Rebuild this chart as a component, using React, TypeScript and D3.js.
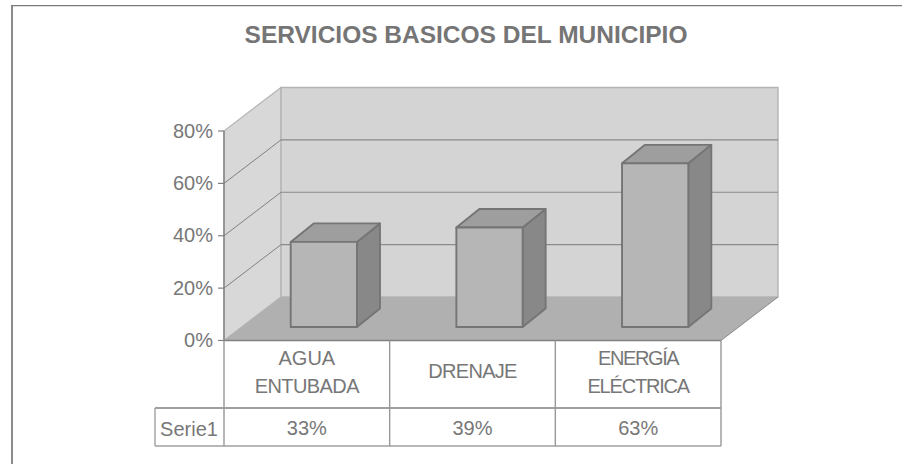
import React from "react";
import * as d3 from "d3";

const categories = ["AGUA ENTUBADA", "DRENAJE", "ENERGÍA ELÉCTRICA"];
const categoryLines = [["AGUA", "ENTUBADA"], ["DRENAJE"], ["ENERGÍA", "ELÉCTRICA"]];
const seriesName = "Serie1";
const seriesValues = [32.5, 38, 62.5];
const tableLabels = ["33%", "39%", "63%"];
const yTicks = [0, 20, 40, 60, 80];
const titleText = "SERVICIOS BASICOS DEL MUNICIPIO";

const W = 902, H = 464;
const FONT = "'Liberation Sans', Arial, sans-serif";
const TXT = "#777777";
const LINE = "#808080";
const depth = { dx: 57, dy: -43.5 };
const barDepth = { dx: 23, dy: -18.5 };
const barOffset = { dx: 17, dy: -13.5 };

const x = d3.scaleBand<string>().domain(categories).range([224, 721]);
const y = d3.scaleLinear().domain([0, 80]).range([340.5, 131]);

const poly = (pts: [number, number][]) => d3.line()(pts) + "Z";

const spacing: Record<string, number> = {
  AGUA: 0, ENTUBADA: -0.6, DRENAJE: -0.7, "ENERGÍA": -1.4, "ELÉCTRICA": -1.2,
};

export default function App() {
  const x0 = x.range()[0], x1 = x.range()[1];
  const y0 = y(0), yTop = y(80);
  const { dx, dy } = depth;
  const tableMid = 408, tableBot = 446, tableLeft = 155;
  const bw = x.bandwidth();
  return (
    <svg width={W} height={H} style={{ position: "absolute", left: 0, top: 0, background: "#fff" }} fontFamily={FONT}>
      <line x1={12} y1={5} x2={12} y2={H} stroke="#8c8c8c" strokeWidth={2} />
      <line x1={11} y1={5.6} x2={W} y2={5.6} stroke="#7c7c7c" strokeWidth={1.4} />
      <text x={466} y={43} textAnchor="middle" fontSize={24.5} fontWeight="bold" fill="#757575">{titleText}</text>

      {/* walls */}
      <path d={poly([[x0, y0], [x0, yTop], [x0 + dx, yTop + dy], [x0 + dx, y0 + dy]])} fill="#d8d8d8" stroke="#b4b4b4" strokeWidth={1.2} />
      <path d={poly([[x0 + dx, y0 + dy], [x0 + dx, yTop + dy], [x1 + dx, yTop + dy], [x1 + dx, y0 + dy]])} fill="#d4d4d4" stroke="#b4b4b4" strokeWidth={1.4} />
      <path d={poly([[x0, y0], [x0 + dx, y0 + dy], [x1 + dx, y0 + dy], [x1, y0]])} fill="#b0b0b0" />

      {/* gridlines */}
      {yTicks.filter(t => t > 0 && t < 80).map(t => (
        <g key={t}>
          <line x1={x0} y1={y(t)} x2={x0 + dx} y2={y(t) + dy} stroke="#808080" strokeWidth={1} />
          <line x1={x0 + dx} y1={y(t) + dy} x2={x1 + dx} y2={y(t) + dy} stroke="#8a8a8a" strokeWidth={1.2} />
        </g>
      ))}
      <line x1={x1} y1={y0} x2={x1 + dx} y2={y0 + dy} stroke="#8a8a8a" strokeWidth={1} />

      {/* y axis */}
      <line x1={x0} y1={yTop} x2={x0} y2={y0} stroke={LINE} strokeWidth={1.4} />
      {yTicks.map(t => (
        <g key={t}>
          <line x1={x0 - 6} y1={y(t)} x2={x0} y2={y(t)} stroke={LINE} strokeWidth={1.2} />
          <text x={213} y={y(t) + 6.5} textAnchor="end" fontSize={20} fill={TXT}>{t}%</text>
        </g>
      ))}

      {/* bars */}
      {categories.map((c, i) => {
        const cx = (x(c) as number) + bw / 2 + barOffset.dx;
        const w = bw * 0.4;
        const l = cx - w / 2, r = cx + w / 2;
        const b = y0 + barOffset.dy;
        const t = b - (y(0) - y(seriesValues[i]));
        const { dx: ox, dy: oy } = barDepth;
        return (
          <g key={c} stroke="#757575" strokeWidth={1.9} strokeLinejoin="round">
            <path d={poly([[r, b], [r, t], [r + ox, t + oy], [r + ox, b + oy]])} fill="#888888" />
            <path d={poly([[l, t], [l + ox, t + oy], [r + ox, t + oy], [r, t]])} fill="#9e9e9e" />
            <path d={poly([[l, b], [l, t], [r, t], [r, b]])} fill="#b6b6b6" />
          </g>
        );
      })}

      {/* data table */}
      <g stroke={LINE} strokeWidth={1.4} fill="none">
        <line x1={x0} y1={y0} x2={x1} y2={y0} />
        <line x1={tableLeft} y1={tableMid} x2={x1} y2={tableMid} />
        <line x1={tableLeft} y1={tableBot} x2={x1} y2={tableBot} stroke="#a0a0a0" />
        <line x1={tableLeft} y1={tableMid} x2={tableLeft} y2={tableBot} stroke="#a0a0a0" />
        {categories.map(c => (
          <line key={c} x1={x(c)} y1={y0} x2={x(c)} y2={tableBot} stroke="#989898" />
        ))}
        <line x1={x1} y1={y0} x2={x1} y2={tableBot} stroke="#989898" />
      </g>
      <text x={189} y={436} textAnchor="middle" fontSize={20} fill={TXT}>{seriesName}</text>
      {categories.map((c, i) => {
        const cx = (x(c) as number) + bw / 2;
        const lines = categoryLines[i];
        const base = lines.length === 2 ? [364.5, 392.5] : [378];
        return (
          <g key={c} textAnchor="middle" fontSize={20} fill={TXT}>
            {lines.map((s, k) => (
              <text key={s} x={cx} y={base[k]} letterSpacing={spacing[s]}>{s}</text>
            ))}
            <text x={cx} y={435}>{tableLabels[i]}</text>
          </g>
        );
      })}
    </svg>
  );
}
